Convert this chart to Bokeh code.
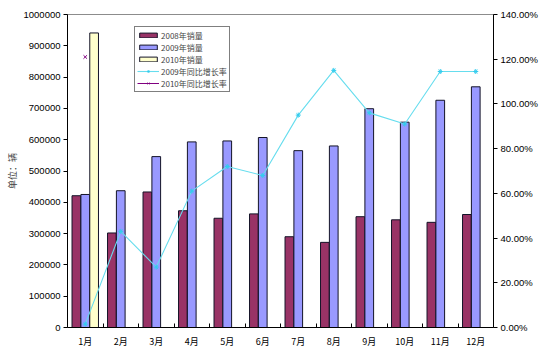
import numpy as np
from bokeh.plotting import figure
from bokeh.models import (ColumnDataSource, Range1d, LinearAxis, FixedTicker,
                          NumeralTickFormatter, Legend, LegendItem)
from bokeh.transform import dodge
from bokeh.embed import file_html
from bokeh.resources import INLINE

months = ["1月", "2月", "3月", "4月", "5月", "6月", "7月", "8月", "9月", "10月", "11月", "12月"]
sales_2008 = [421000, 302000, 433000, 373000, 349000, 363000, 290000, 272000, 354000, 344000, 336000, 361000]
sales_2009 = [425000, 437000, 546000, 593000, 596000, 607000, 565000, 580000, 699000, 656000, 726000, 769000]
sales_2010 = [941000]
growth_2009 = [0.015, 0.43, 0.27, 0.61, 0.72, 0.68, 0.95, 1.15, 0.96, 0.91, 1.145, 1.145]
growth_2010 = [1.21]
left_ticks = [0, 100000, 200000, 300000, 400000, 500000, 600000, 700000, 800000, 900000, 1000000]
right_ticks = [0.0, 0.2, 0.4, 0.6, 0.8, 1.0, 1.2, 1.4]

pos = list(np.arange(len(months)) + 0.5)
src = ColumnDataSource(dict(x=pos, s08=sales_2008, s09=sales_2009, g09=growth_2009))
src10 = ColumnDataSource(dict(x=pos[:len(sales_2010)], s10=sales_2010, g10=growth_2010))

NUM_FONT = "Liberation Sans"
CJK_FONT = "Noto Sans CJK SC"

p = figure(width=547, height=358, output_backend="svg", toolbar_location=None,
           x_range=Range1d(0, 12), y_range=Range1d(0, 1000000),
           min_border_left=67, min_border_right=54, min_border_top=14, min_border_bottom=31)
p.extra_y_ranges = {"pct": Range1d(0, 1.4)}
p.xgrid.visible = False
p.ygrid.visible = False
p.outline_line_color = "#8c8c8c"
p.background_fill_color = "white"
p.border_fill_color = "white"

b08 = p.vbar(x=dodge("x", -0.25), top="s08", width=0.245, source=src,
             fill_color="#993366", line_color="#141428", line_width=1)
b09 = p.vbar(x=dodge("x", 0.0), top="s09", width=0.245, source=src,
             fill_color="#9999FF", line_color="#141428", line_width=1)
b10 = p.vbar(x=dodge("x", 0.25), top="s10", width=0.245, source=src10,
             fill_color="#FFFFCC", line_color="#141428", line_width=1)

l09 = p.line(x="x", y="g09", source=src, y_range_name="pct", line_color="#66DDEE", line_width=1.1)
m09 = p.scatter(x="x", y="g09", source=src, y_range_name="pct", marker="asterisk",
                size=5, line_color="#33CCEE", line_width=1)
l10 = p.line(x="x", y="g10", source=src10, y_range_name="pct", line_color="#800080", line_width=1)
m10 = p.scatter(x="x", y="g10", source=src10, y_range_name="pct", marker="x",
                size=5, line_color="#800080", line_width=1)

# bottom axis
xa = p.xaxis[0]
xa.ticker = FixedTicker(ticks=pos, minor_ticks=list(range(1, 12)))
xa.major_label_overrides = {float(v): m for v, m in zip(pos, months)}
xa.major_tick_in = 0
xa.major_tick_out = 0
xa.minor_tick_in = 4
xa.minor_tick_out = 0
xa.axis_line_color = "black"
xa.minor_tick_line_color = "black"
xa.major_label_text_font = CJK_FONT
xa.major_label_text_font_size = "9px"
xa.major_label_text_color = "black"
xa.major_label_standoff = 7

# left axis
ya = p.yaxis[0]
ya.ticker = FixedTicker(ticks=left_ticks, minor_ticks=[])
ya.formatter = NumeralTickFormatter(format="0")
ya.major_tick_in = 0
ya.major_tick_out = 4
ya.axis_line_color = "black"
ya.major_tick_line_color = "black"
ya.major_label_text_font = NUM_FONT
ya.major_label_text_font_size = "9.5px"
ya.major_label_text_color = "black"
ya.major_label_standoff = 3
ya.axis_label = "单位：辆"
ya.axis_label_text_font = CJK_FONT
ya.axis_label_text_font_size = "9px"
ya.axis_label_text_font_style = "normal"
ya.axis_label_standoff = 2

# right axis
ra = LinearAxis(y_range_name="pct", ticker=FixedTicker(ticks=right_ticks, minor_ticks=[]),
                formatter=NumeralTickFormatter(format="0.00%"))
ra.major_tick_in = 0
ra.major_tick_out = 4
ra.axis_line_color = "black"
ra.major_tick_line_color = "black"
ra.major_label_text_font = NUM_FONT
ra.major_label_text_font_size = "9.5px"
ra.major_label_text_color = "black"
ra.major_label_standoff = 3
p.add_layout(ra, "right")

legend = Legend(items=[
    LegendItem(label="2008年销量", renderers=[b08]),
    LegendItem(label="2009年销量", renderers=[b09]),
    LegendItem(label="2010年销量", renderers=[b10]),
    LegendItem(label="2009年同比增长率", renderers=[l09, m09]),
    LegendItem(label="2010年同比增长率", renderers=[l10, m10]),
], location=(67, 235))
legend.label_text_font = CJK_FONT
legend.label_text_font_size = "8px"
legend.label_height = 12
legend.glyph_height = 6
legend.glyph_width = 22
legend.spacing = 0
legend.padding = 2
legend.margin = 0
legend.label_standoff = 2
legend.border_line_color = "black"
legend.border_line_width = 1
legend.background_fill_alpha = 1
p.add_layout(legend, "center")

open("out.html", "w").write(file_html(p, INLINE))
